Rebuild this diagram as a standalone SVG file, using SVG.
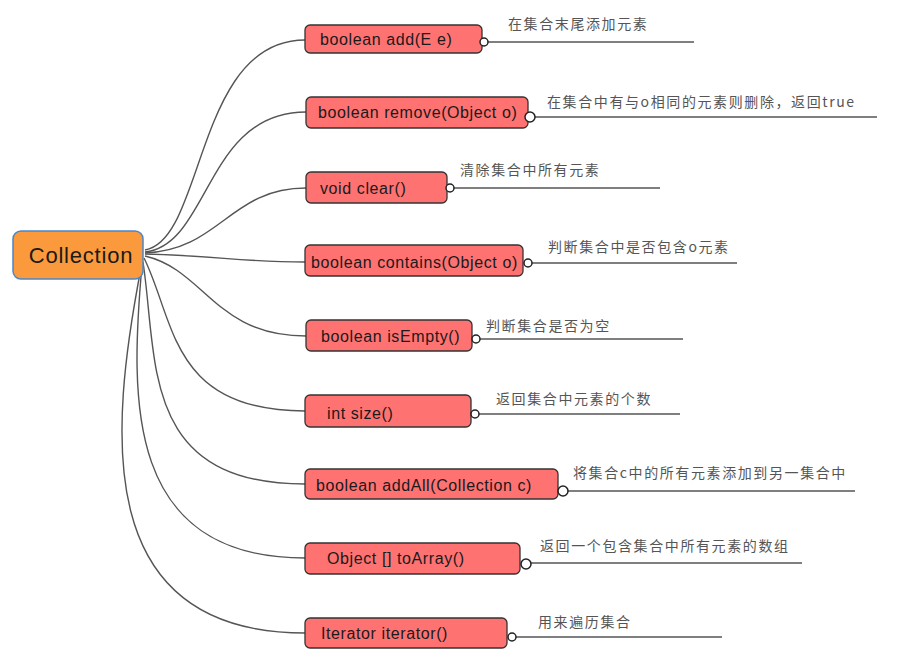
<svg xmlns="http://www.w3.org/2000/svg" width="919" height="660" viewBox="0 0 919 660">
<style>
.bg{fill:#ffffff}
.conn{fill:none;stroke:#555;stroke-width:1.4}
.node{fill:#ff7272;stroke:#333;stroke-width:1.3}
.root{fill:#fb9a3c;stroke:#4a86c8;stroke-width:1.5}
.nt{font-family:"Liberation Sans","Noto Sans CJK SC",sans-serif;font-size:16px;letter-spacing:0.6px;fill:#1a1a1a}
.rt{font-family:"Liberation Sans","Noto Sans CJK SC",sans-serif;font-size:22px;letter-spacing:0.8px;fill:#1a1a1a}
.lab{font-family:"Noto Sans CJK SC",sans-serif;font-size:14px;letter-spacing:1.6px;fill:#555}
.line{stroke:#555;stroke-width:1.6}
.dot{fill:#fff;stroke:#222;stroke-width:1.5}
</style>
<rect class="bg" x="0" y="0" width="919" height="660"/>
<g id="connectors">
<path class="conn" d="M145,250 C205,240 195,40 305,40"/>
<path class="conn" d="M145,252 C210,245 205,112 306,112"/>
<path class="conn" d="M145,253 C220,250 230,188 306,188"/>
<path class="conn" d="M145,254 C220,256 240,262 305,262"/>
<path class="conn" d="M145,256 C205,270 215,336 306,336"/>
<path class="conn" d="M144,258 C175,320 170,411 305,411"/>
<path class="conn" d="M143,262 C158,360 140,484 305,484"/>
<path class="conn" d="M142,265 C130,400 125,558 305,558"/>
<path class="conn" d="M141,268 C110,430 90,633 305,633"/>
</g>
<g id="collection">
<rect class="root" x="13" y="231" width="130" height="48" rx="8"/>
<text class="rt" x="81" y="263" text-anchor="middle">Collection</text>
</g>
<g id="n-add">
<rect class="node" x="305" y="25" width="177" height="28" rx="5"/>
<text class="nt" x="320" y="45">boolean add(E e)</text>
<line class="line" x1="486" y1="42" x2="694" y2="42"/>
<circle class="dot" cx="484" cy="42" r="4"/>
<text class="lab" x="508" y="29">在集合末尾添加元素</text>
</g>
<g id="n-remove">
<rect class="node" x="306" y="97" width="222" height="31" rx="5"/>
<text class="nt" x="318" y="118">boolean remove(Object o)</text>
<line class="line" x1="534" y1="117" x2="877" y2="117"/>
<circle class="dot" cx="530" cy="117" r="5"/>
<text class="lab" x="547" y="107">在集合中有与o相同的元素则删除，返回true</text>
</g>
<g id="n-clear">
<rect class="node" x="306" y="172" width="141" height="31" rx="5"/>
<text class="nt" x="320" y="194">void clear()</text>
<line class="line" x1="452" y1="188" x2="660" y2="188"/>
<circle class="dot" cx="450" cy="188" r="4"/>
<text class="lab" x="460" y="175">清除集合中所有元素</text>
</g>
<g id="n-contains">
<rect class="node" x="305" y="245" width="218" height="31" rx="5"/>
<text class="nt" x="311" y="268">boolean contains(Object o)</text>
<line class="line" x1="530" y1="263" x2="737" y2="263"/>
<circle class="dot" cx="528" cy="263" r="4"/>
<text class="lab" x="548" y="252">判断集合中是否包含o元素</text>
</g>
<g id="n-isempty">
<rect class="node" x="306" y="320" width="166" height="31" rx="5"/>
<text class="nt" x="321" y="342">boolean isEmpty()</text>
<line class="line" x1="478" y1="339" x2="683" y2="339"/>
<circle class="dot" cx="476" cy="339" r="4"/>
<text class="lab" x="486" y="331">判断集合是否为空</text>
</g>
<g id="n-size">
<rect class="node" x="305" y="395" width="166" height="32" rx="5"/>
<text class="nt" x="327" y="419">int size()</text>
<line class="line" x1="477" y1="414" x2="680" y2="414"/>
<circle class="dot" cx="475" cy="414" r="4"/>
<text class="lab" x="496" y="404">返回集合中元素的个数</text>
</g>
<g id="n-addall">
<rect class="node" x="305" y="469" width="253" height="30" rx="5"/>
<text class="nt" x="316" y="491">boolean addAll(Collection c)</text>
<line class="line" x1="566" y1="491" x2="855" y2="491"/>
<circle class="dot" cx="563" cy="491" r="5"/>
<text class="lab" x="573" y="478">将集合c中的所有元素添加到另一集合中</text>
</g>
<g id="n-toarray">
<rect class="node" x="305" y="543" width="215" height="31" rx="5"/>
<text class="nt" x="327" y="564">Object [] toArray()</text>
<line class="line" x1="528" y1="563" x2="802" y2="563"/>
<circle class="dot" cx="526" cy="564" r="5"/>
<text class="lab" x="540" y="551">返回一个包含集合中所有元素的数组</text>
</g>
<g id="n-iterator">
<rect class="node" x="305" y="618" width="202" height="30" rx="5"/>
<text class="nt" x="321" y="639">Iterator iterator()</text>
<line class="line" x1="515" y1="637" x2="722" y2="637"/>
<circle class="dot" cx="512" cy="637" r="4"/>
<text class="lab" x="538" y="627">用来遍历集合</text>
</g>
</svg>
